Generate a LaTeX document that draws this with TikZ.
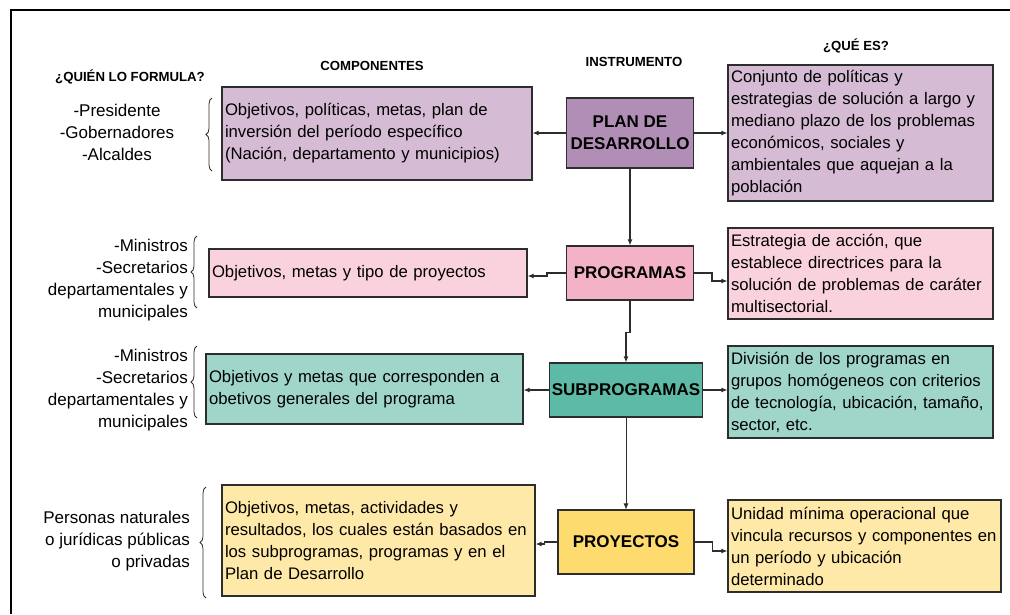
\documentclass[tikz,border=0pt]{standalone}
\usepackage{fontspec}
\setmainfont{Liberation Sans}
\usetikzlibrary{arrows.meta,decorations.pathreplacing}
\definecolor{lilac}{RGB}{213,187,211}
\definecolor{lilacdark}{RGB}{177,142,181}
\definecolor{rosa}{RGB}{250,210,222}
\definecolor{rosadark}{RGB}{243,178,198}
\definecolor{menta}{RGB}{160,214,202}
\definecolor{mentadark}{RGB}{92,186,166}
\definecolor{crema}{RGB}{255,233,168}
\definecolor{cremadark}{RGB}{253,219,110}
\definecolor{borde}{RGB}{45,45,45}
\begin{document}
\begin{tikzpicture}[x=1pt,y=1pt,
    caja/.style={draw=borde,line width=1.1pt,align=left,inner xsep=3pt,inner ysep=0pt,
      font=\fontsize{16.7}{22}\selectfont},
    instr/.style={draw=borde,line width=1.1pt,align=center,inner sep=0pt,
      font=\fontsize{17}{22}\selectfont\bfseries},
    titulo/.style={font=\fontsize{13.2}{15}\selectfont\bfseries},
    lista/.style={font=\fontsize{17}{22}\selectfont,inner sep=0pt},
    flecha/.style={draw=borde,line width=1.2pt,-{Latex[length=6pt,width=5pt]}},
    llave/.style={draw=borde,line width=0.8pt,decorate,decoration={brace,amplitude=6pt}}]
    \useasboundingbox (0,0) rectangle (1010,-614);
    \draw[line width=1.6pt] (11,-614) -- (11,-10) -- (1010,-10);

    \node[titulo] (quien) at (130,-77) {¿QUIÉN LO FORMULA?};
    \node[titulo] (compo) at (372,-66) {COMPONENTES};
    \node[titulo] (instrum) at (634,-62) {INSTRUMENTO};
    \node[titulo] (quees) at (856,-46) {¿QUÉ ES?};

    \node[instr,fill=lilacdark,minimum width=127pt,minimum height=70pt] (plan) at (630,-133) {PLAN DE\\DESARROLLO};
    \node[instr,fill=rosadark,minimum width=127pt,minimum height=54pt] (prog) at (630,-273) {PROGRAMAS};
    \node[instr,fill=mentadark,minimum width=153pt,minimum height=54pt] (sub) at (626,-390) {SUBPROGRAMAS};
    \node[instr,fill=cremadark,minimum width=136pt,minimum height=64pt] (proy) at (626,-542) {PROYECTOS};

    \node[caja,fill=lilac,text width=304pt,minimum height=93pt] (compplan) at (377,-133.5) {Objetivos, políticas, metas, plan de\\inversión del período específico\\(Nación, departamento y municipios)};
    \node[caja,fill=rosa,text width=312pt,minimum height=48pt] (compprog) at (368,-273) {Objetivos, metas y tipo de proyectos};
    \node[caja,fill=menta,text width=311pt,minimum height=70pt] (compsub) at (364.5,-389) {Objetivos y metas que corresponden a\\obetivos generales del programa};
    \node[caja,fill=crema,text width=307pt,minimum height=111pt] (compproy) at (378.5,-540.5) {Objetivos, metas, actividades y\\resultados, los cuales están basados en\\los subprogramas, programas y en el\\Plan de Desarrollo};

    \node[caja,fill=lilac,text width=259pt,minimum height=136pt] (queplan) at (860.5,-133) {Conjunto de políticas y\\estrategias de solución a largo y\\mediano plazo de los problemas\\económicos, sociales y\\ambientales que aquejan a la\\población};
    \node[caja,fill=rosa,text width=259pt,minimum height=91pt] (queprog) at (860.5,-273.5) {Estrategia de acción, que\\establece directrices para la\\solución de problemas de caráter\\multisectorial.};
    \node[caja,fill=menta,text width=259pt,minimum height=92pt] (quesub) at (860.5,-392) {División de los programas en\\grupos homógeneos con criterios\\de tecnología, ubicación, tamaño,\\sector, etc.};
    \node[caja,fill=crema,text width=267pt,minimum height=92pt] (queproy) at (864.5,-546) {Unidad mínima operacional que\\vincula recursos y componentes en\\un período y ubicación\\determinado};

    \node[lista,align=center] (quienplan) at (117,-132) {-Presidente\\-Gobernadores\\-Alcaldes};
    \node[lista,align=right,anchor=east] (quienprog) at (188,-280) {-Ministros\\-Secretarios\\departamentales y\\municipales};
    \node[lista,align=right,anchor=east] (quiensub) at (188,-390) {-Ministros\\-Secretarios\\departamentales y\\municipales};
    \node[lista,align=right,anchor=east] (quienproy) at (190,-541) {Personas naturales\\o jurídicas públicas\\o privadas};

    \draw[llave] (212,-171) -- (212,-98);
    \draw[llave] (197,-308) -- (197,-236);
    \draw[llave] (197,-418) -- (197,-346);
    \draw[llave] (206,-598) -- (206,-487);

    \draw[flecha] (plan.west) to (plan.west -| compplan.east);
    \draw[flecha] (plan.east) to (plan.east -| queplan.west);
    \draw[flecha] (plan) to (prog);
    \draw[flecha] (prog.west) -- ++(-19,0) |- ([yshift=-3pt]compprog.east);
    \draw[flecha] (prog.east) -- ++(18,0) |- ([yshift=-7.5pt]queprog.west);
    \draw[flecha] (prog.south) -- ++(0,-32) -| (sub.north);
    \draw[flecha] (sub.west) to (sub.west -| compsub.east);
    \draw[flecha] (sub.east) to (sub.east -| quesub.west);
    \draw[flecha,line width=0.7pt] (sub.south) to (sub.south |- proy.north);
    \draw[flecha] (proy.west) -- ++(-13,0) |- ([yshift=-3.5pt]compproy.east);
    \draw[flecha] (proy.east) -- ++(18,0) |- ([yshift=-5pt]queproy.west);
\end{tikzpicture}
\end{document}
